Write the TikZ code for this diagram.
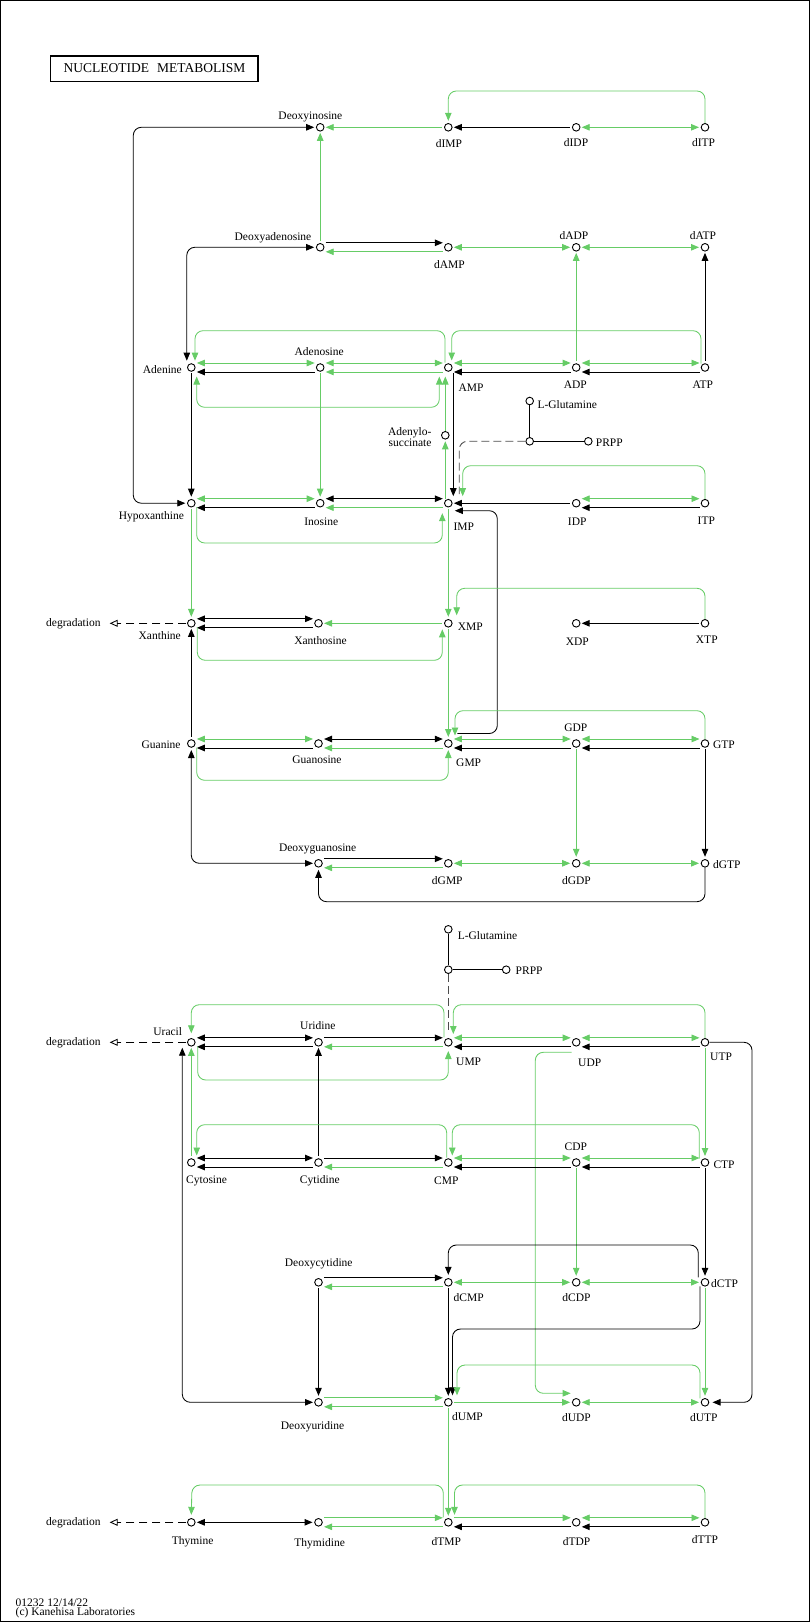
\documentclass[tikz,border=0pt]{standalone}
\usepackage{fontspec}
\setmainfont{Liberation Serif}
\usetikzlibrary{arrows.meta}
\definecolor{kg}{RGB}{102,204,102}
\pgfdeclarelayer{bg}
\pgfsetlayers{bg,main}
\newcommand\HU[3]{\draw[#1] ([xshift=5.5pt,yshift=4.5pt]#2.center) -- ([xshift=-5.5pt,yshift=4.5pt]#3.center);}
\newcommand\HD[3]{\draw[#1] ([xshift=5.5pt,yshift=-4.5pt]#2.center) -- ([xshift=-5.5pt,yshift=-4.5pt]#3.center);}
\newcommand\HM[3]{\draw[#1] ([xshift=5.5pt]#2.center) -- ([xshift=-6pt]#3.center);}
\newcommand\VV[4]{\draw[#1] ([xshift=#4pt,yshift=-5.5pt]#2.center) -- ([xshift=#4pt,yshift=6.5pt]#3.center);}
\begin{document}
\begin{tikzpicture}[x=1pt,y=-1pt,
 met/.style={circle,draw=black,fill=white,line width=0.9pt,minimum size=7.6pt,inner sep=0pt},
 k/.style={draw=black,line width=1.0pt},
 kt/.style={draw=black,line width=0.85pt},
 g/.style={draw=kg,line width=0.85pt},
 >={Triangle[length=8pt,width=6.5pt]},
 lbl/.style={font=\fontsize{11.5}{12}\selectfont,inner sep=0pt},
 rc/.style={rounded corners=8pt},
 degline/.style={draw=black,line width=0.85pt,dash pattern=on 8pt off 5pt,-{Triangle[open,length=8pt,width=7pt]}},
 glnline/.style={draw=black!70,line width=0.85pt,dash pattern=on 8pt off 4pt}
 ]
\useasboundingbox (0,0) rectangle (810,1622);
\draw[line width=1pt] (0.5,0.5) rectangle (809.2,1621.5);
\node[draw,line width=1.6pt,minimum width=207.7pt,minimum height=25.6pt,inner sep=0pt,font=\fontsize{13.5}{14}\selectfont] (title) at (154.4,68.5) {NUCLEOTIDE\hspace{0.6em}METABOLISM};

% ---------- compounds ----------
\node[met] (dIno) at (320.2,127.3) {};
\node[met] (dIMP) at (448.3,127.3) {};
\node[met] (dIDP) at (576.2,127.3) {};
\node[met] (dITP) at (705,127.3) {};
\node[met] (dAdo) at (320.2,247.3) {};
\node[met] (dAMP) at (448.3,247.3) {};
\node[met] (dADP) at (576.2,247.3) {};
\node[met] (dATP) at (705,247.3) {};
\node[met] (Ade) at (191.3,367.5) {};
\node[met] (Ado) at (320.2,367.5) {};
\node[met] (AMP) at (448.3,367.5) {};
\node[met] (ADP) at (576.2,367.5) {};
\node[met] (ATP) at (705,367.5) {};
\node[met] (Gln1) at (529.7,401) {};
\node[met] (J1) at (529.7,441.3) {};
\node[met] (PRPP1) at (588.3,441.3) {};
\node[met] (AdSucc) at (445.3,435.3) {};
\node[met] (Hyp) at (191.3,503.2) {};
\node[met] (Ino) at (320.2,503.2) {};
\node[met] (IMP) at (448.3,503.2) {};
\node[met] (IDP) at (576.2,503.2) {};
\node[met] (ITP) at (705,503.2) {};
\node[met] (Xan) at (191.3,623.3) {};
\node[met] (Xao) at (318.5,623.3) {};
\node[met] (XMP) at (448.3,623.3) {};
\node[met] (XDP) at (576.2,623.3) {};
\node[met] (XTP) at (705,623.3) {};
\node[met] (Gua) at (191.3,743.5) {};
\node[met] (Guo) at (318.5,743.5) {};
\node[met] (GMP) at (448.3,743.5) {};
\node[met] (GDP) at (576.2,743.5) {};
\node[met] (GTP) at (705,743.5) {};
\node[met] (dGuo) at (318.5,863.3) {};
\node[met] (dGMP) at (448.3,863.3) {};
\node[met] (dGDP) at (576.2,863.3) {};
\node[met] (dGTP) at (705,863.3) {};
\node[met] (Gln2) at (448.3,929.3) {};
\node[met] (J2) at (448.3,969.7) {};
\node[met] (PRPP2) at (506.2,969.7) {};
\node[met] (Ura) at (191.3,1042.3) {};
\node[met] (Urd) at (318.5,1042.3) {};
\node[met] (UMP) at (448.3,1042.3) {};
\node[met] (UDP) at (576.2,1042.3) {};
\node[met] (UTP) at (705,1042.3) {};
\node[met] (Cyt) at (191.3,1162.5) {};
\node[met] (Cyd) at (318.5,1162.5) {};
\node[met] (CMP) at (448.3,1162.5) {};
\node[met] (CDP) at (576.2,1162.5) {};
\node[met] (CTP) at (705,1162.5) {};
\node[met] (dCyd) at (318.5,1282.3) {};
\node[met] (dCMP) at (448.3,1282.3) {};
\node[met] (dCDP) at (576.2,1282.3) {};
\node[met] (dCTP) at (705,1282.3) {};
\node[met] (dUrd) at (318.5,1402.3) {};
\node[met] (dUMP) at (448.3,1402.3) {};
\node[met] (dUDP) at (576.2,1402.3) {};
\node[met] (dUTP) at (705,1402.3) {};
\node[met] (Thy) at (191.3,1522.3) {};
\node[met] (Thd) at (318.5,1522.3) {};
\node[met] (dTMP) at (448.3,1522.3) {};
\node[met] (dTDP) at (576.2,1522.3) {};
\node[met] (dTTP) at (705,1522.3) {};

% ---------- labels ----------
\node[lbl,anchor=base] (t1) at (310.4,119.3) {Deoxyinosine};
\node[lbl,anchor=base] (t2) at (449,147.7) {dIMP};
\node[lbl,anchor=base] (t3) at (576,146.7) {dIDP};
\node[lbl,anchor=base] (t4) at (703.6,146.7) {dITP};
\node[lbl,anchor=base east] (t5) at (311.5,240) {Deoxyadenosine};
\node[lbl,anchor=base] (t6) at (449.5,268.7) {dAMP};
\node[lbl,anchor=base] (t7) at (574,239) {dADP};
\node[lbl,anchor=base] (t8) at (703,239) {dATP};
\node[lbl,anchor=base east] (t9) at (182,373.5) {Adenine};
\node[lbl,anchor=base] (t10) at (319.2,355) {Adenosine};
\node[lbl,anchor=base west] (t11) at (458.3,391) {AMP};
\node[lbl,anchor=base] (t12) at (575.3,388.3) {ADP};
\node[lbl,anchor=base] (t13) at (702.8,388.3) {ATP};
\node[lbl,anchor=base west] (t14) at (537.3,408) {L-Glutamine};
\node[lbl,anchor=base west] (t15) at (595.7,446) {PRPP};
\node[lbl,anchor=base east] (t16) at (431.7,435) {Adenylo-};
\node[lbl,anchor=base east] (t17) at (431.7,446) {succinate};
\node[lbl,anchor=base] (t18) at (151.4,519.5) {Hypoxanthine};
\node[lbl,anchor=base] (t19) at (321.2,525) {Inosine};
\node[lbl,anchor=base west] (t20) at (453.3,530) {IMP};
\node[lbl,anchor=base] (t21) at (577.2,525.7) {IDP};
\node[lbl,anchor=base] (t22) at (706.3,524) {ITP};
\node[lbl,anchor=base east] (t23) at (181,639.3) {Xanthine};
\node[lbl,anchor=base] (t24) at (320.5,644) {Xanthosine};
\node[lbl,anchor=base west] (t25) at (457.7,630) {XMP};
\node[lbl,anchor=base] (t26) at (577.3,645) {XDP};
\node[lbl,anchor=base] (t27) at (706.8,643.3) {XTP};
\node[lbl,anchor=base east] (t28) at (180.8,748.3) {Guanine};
\node[lbl,anchor=base] (t29) at (317,763) {Guanosine};
\node[lbl,anchor=base west] (t30) at (456,766.7) {GMP};
\node[lbl,anchor=base] (t31) at (575.8,731) {GDP};
\node[lbl,anchor=base west] (t32) at (712.8,748.3) {GTP};
\node[lbl,anchor=base] (t33) at (317.7,851.7) {Deoxyguanosine};
\node[lbl,anchor=base] (t34) at (447.3,884) {dGMP};
\node[lbl,anchor=base] (t35) at (576.5,884) {dGDP};
\node[lbl,anchor=base west] (t36) at (712.8,868.3) {dGTP};
\node[lbl,anchor=base west] (t37) at (457.6,939) {L-Glutamine};
\node[lbl,anchor=base west] (t38) at (515.5,974) {PRPP};
\node[lbl,anchor=base east] (t39) at (182.3,1035) {Uracil};
\node[lbl,anchor=base] (t40) at (317.8,1029.3) {Uridine};
\node[lbl,anchor=base west] (t41) at (456,1065.7) {UMP};
\node[lbl,anchor=base] (t42) at (589.7,1066.7) {UDP};
\node[lbl,anchor=base west] (t43) at (710,1060.7) {UTP};
\node[lbl,anchor=base] (t44) at (206.6,1183.3) {Cytosine};
\node[lbl,anchor=base] (t45) at (319.8,1183) {Cytidine};
\node[lbl,anchor=base] (t46) at (446.3,1184) {CMP};
\node[lbl,anchor=base] (t47) at (575.8,1150) {CDP};
\node[lbl,anchor=base west] (t48) at (713.3,1168.3) {CTP};
\node[lbl,anchor=base] (t49) at (318.7,1266) {Deoxycytidine};
\node[lbl,anchor=base west] (t50) at (453.5,1301) {dCMP};
\node[lbl,anchor=base] (t51) at (576.5,1301) {dCDP};
\node[lbl,anchor=base west] (t52) at (711,1287.3) {dCTP};
\node[lbl,anchor=base] (t53) at (312.5,1429) {Deoxyuridine};
\node[lbl,anchor=base west] (t54) at (452,1420.7) {dUMP};
\node[lbl,anchor=base] (t55) at (576.5,1421) {dUDP};
\node[lbl,anchor=base] (t56) at (703.8,1421.7) {dUTP};
\node[lbl,anchor=base] (t57) at (192.7,1544) {Thymine};
\node[lbl,anchor=base] (t58) at (319.7,1546) {Thymidine};
\node[lbl,anchor=base] (t59) at (446.3,1545) {dTMP};
\node[lbl,anchor=base] (t60) at (576.5,1545) {dTDP};
\node[lbl,anchor=base] (t61) at (705,1543.7) {dTTP};
\node[lbl,anchor=east] (deg1) at (100.7,623.3) {degradation};
\node[lbl,anchor=east] (deg2) at (100.7,1042.3) {degradation};
\node[lbl,anchor=east] (deg3) at (100.7,1522.3) {degradation};
\node[lbl,anchor=base west] (f1) at (15.5,1606.7) {01232 12/14/22};
\node[lbl,anchor=base west] (f2) at (15.5,1615.5) {(c) Kanehisa Laboratories};

% ---------- reactions ----------
\begin{pgfonlayer}{bg}
% row dIMP
\HM{g,<-}{dIno}{dIMP}
\HM{k,<-}{dIMP}{dIDP}
\HM{g,<->}{dIDP}{dITP}
\draw[g,->,rc] ([yshift=4pt]dITP.center) -- (705,91) -- (448.3,91) -- ([yshift=6.5pt]dIMP.center);
\draw[kt,<->,rc] ([xshift=-6pt]Hyp.center) -- (133.3,503.2) -- (133.3,127.3) -- ([xshift=-6pt]dIno.center);
% row dAMP
\HU{k,->}{dAdo}{dAMP}
\HD{g,<-}{dAdo}{dAMP}
\HM{g,<->}{dAMP}{dADP}
\HM{g,<->}{dADP}{dATP}
\VV{g,<-}{dIno}{dAdo}{0}
\VV{g,<-}{dADP}{ADP}{0}
\VV{k,<-}{dATP}{ATP}{0}
\draw[kt,<->,rc] ([xshift=-4.5pt,yshift=6.8pt]Ade.center) -- (186.8,247.3) -- ([xshift=-6pt]dAdo.center);
% row AMP
\HU{g,<->}{Ade}{Ado}
\HD{k,<-}{Ade}{Ado}
\HU{g,<->}{Ado}{AMP}
\HD{g,<-}{Ado}{AMP}
\HU{g,<->}{AMP}{ADP}
\HD{k,<-}{AMP}{ADP}
\HU{g,<->}{ADP}{ATP}
\HD{k,<-}{ADP}{ATP}
\draw[g,->,rc] ([xshift=-3.3pt,yshift=5pt]AMP.center) -- (445,330.7) -- (195,330.7) -- ([xshift=3.7pt,yshift=6.8pt]Ade.center);
\draw[g,->,rc] ([xshift=-4pt,yshift=4pt]ATP.center) -- (701,330.7) -- (451.7,330.7) -- ([xshift=3.4pt,yshift=7pt]AMP.center);
\draw[g,<->,rc] ([xshift=5.4pt,yshift=-9pt]Ade.center) -- (196.7,407.3) -- (439.3,407.3) -- ([xshift=-9pt,yshift=-9pt]AMP.center);
\draw[g,->] ([xshift=-3pt,yshift=4pt]IMP.center) -- ([yshift=-6pt]AdSucc.center);
\draw[g,->] ([yshift=4.5pt]AdSucc.center) -- ([xshift=-3pt,yshift=-9pt]AMP.center);
\draw[k,->] ([xshift=5pt,yshift=-5.5pt]AMP.center) -- ([xshift=5pt,yshift=7pt]IMP.center);
\VV{k,->}{Ade}{Hyp}{0}
\VV{g,->}{Ado}{Ino}{0}
\draw[kt] (Gln1) -- (J1);
\draw[kt] (J1) -- (PRPP1);
\draw[glnline,rc] (J1.west) -- (459.3,441.3) -- ([xshift=11pt,yshift=9pt]IMP.center);
% row IMP
\HU{g,<->}{Hyp}{Ino}
\HD{k,<-}{Hyp}{Ino}
\HU{k,<->}{Ino}{IMP}
\HD{g,<-}{Ino}{IMP}
\HM{k,<-}{IMP}{IDP}
\HU{g,<->}{IDP}{ITP}
\HD{k,<-}{IDP}{ITP}
\draw[g,->,rc] ([yshift=4pt]ITP.center) -- (705,465.7) -- (462.7,465.7) -- ([xshift=14.4pt,yshift=7pt]IMP.center);
\draw[g,->,rc] ([xshift=5.4pt,yshift=-4pt]Hyp.center) -- (196.7,543) -- (442.3,543) -- ([xshift=-6pt,yshift=-10pt]IMP.center);
\draw[kt,->,rc] ([xshift=9pt,yshift=10pt]GMP.center) -- (497.3,733.5) -- (497.3,510.7) -- ([xshift=6.5pt,yshift=-7.5pt]IMP.center);
\VV{g,->}{Hyp}{Xan}{0}
\VV{g,->}{IMP}{XMP}{0}
% row XMP
\draw[degline] ([xshift=-5pt]Xan.center) -- ([xshift=9pt]deg1.east);
\HU{k,<->}{Xan}{Xao}
\HD{k,<-}{Xan}{Xao}
\HM{g,<-}{Xao}{XMP}
\HM{k,<-}{XDP}{XTP}
\draw[g,->,rc] ([xshift=6pt,yshift=-4pt]Xan.center) -- (197.3,660.3) -- (442.3,660.3) -- ([xshift=-6pt,yshift=-6pt]XMP.center);
\draw[g,->,rc] ([yshift=4pt]XTP.center) -- (705,588.3) -- (456.7,588.3) -- ([xshift=8.4pt,yshift=8pt]XMP.center);
\VV{g,->}{XMP}{GMP}{0}
\VV{k,<-}{Xan}{Gua}{0}
% row GMP
\HU{g,<->}{Gua}{Guo}
\HD{k,<-}{Gua}{Guo}
\HU{k,<->}{Guo}{GMP}
\HD{g,<-}{Guo}{GMP}
\HU{g,<->}{GMP}{GDP}
\HD{k,<-}{GMP}{GDP}
\HU{g,<->}{GDP}{GTP}
\HD{k,<-}{GDP}{GTP}
\draw[g,->,rc] ([yshift=4pt]GTP.center) -- (705,710.7) -- (455,710.7) -- ([xshift=6.7pt,yshift=8pt]GMP.center);
\draw[g,->,rc] ([xshift=5.4pt,yshift=-4pt]Gua.center) -- (196.7,780.3) -- (448.3,780.3) -- ([yshift=-6.5pt]GMP.center);
\VV{g,->}{GDP}{dGDP}{0}
\VV{k,->}{GTP}{dGTP}{0}
\draw[kt,<->,rc] ([yshift=-6.5pt]Gua.center) -- (191.3,863.3) -- ([xshift=-5.5pt]dGuo.center);
% row dGMP
\HU{k,->}{dGuo}{dGMP}
\HD{g,<-}{dGuo}{dGMP}
\HM{g,<->}{dGMP}{dGDP}
\HM{g,<->}{dGDP}{dGTP}
\draw[kt,->,rc] ([yshift=-4pt]dGTP.center) -- (705,901.7) -- (318.5,901.7) -- ([yshift=-6.5pt]dGuo.center);
% pyrimidines
\draw[kt] (Gln2) -- (J2);
\draw[kt] (J2) -- (PRPP2);
\draw[glnline] (J2) -- ([yshift=10.6pt]UMP.center);
% row UMP
\draw[degline] ([xshift=-5pt]Ura.center) -- ([xshift=9pt]deg2.east);
\HU{k,<->}{Ura}{Urd}
\HD{k,<-}{Ura}{Urd}
\HU{k,->}{Urd}{UMP}
\HD{g,<-}{Urd}{UMP}
\HU{g,<->}{UMP}{UDP}
\HD{k,<-}{UMP}{UDP}
\HU{g,<->}{UDP}{UTP}
\HD{k,<-}{UDP}{UTP}
\draw[g,->,rc] ([xshift=-4.3pt,yshift=5pt]UMP.center) -- (444,1004.7) -- (191.3,1004.7) -- ([yshift=9pt]Ura.center);
\draw[g,->,rc] ([yshift=4pt]UTP.center) -- (705,1004.7) -- (453.3,1004.7) -- ([xshift=5pt,yshift=8.3pt]UMP.center);
\draw[g,->,rc] ([xshift=6.4pt,yshift=-4pt]Ura.center) -- (197.7,1080) -- (448.3,1080) -- ([yshift=-8.7pt]UMP.center);
\VV{g,<-}{Ura}{Cyt}{0}
\VV{k,<-}{Urd}{Cyd}{0}
\draw[kt,<->,rc] ([xshift=-9pt,yshift=-5.4pt]Ura.center) -- (182.3,1402.3) -- ([xshift=-5.5pt]dUrd.center);
\draw[kt,->,rc] ([xshift=4.5pt]UTP.center) -- (752,1042.3) -- (752,1402.3) -- ([xshift=7.5pt]dUTP.center);
\draw[g,->,rc] ([xshift=-4.5pt,yshift=-10pt]UDP.center) -- (535.3,1052.3) -- (535.3,1393.3) -- ([xshift=-5.5pt,yshift=9pt]dUDP.center);
\VV{g,->}{UTP}{CTP}{0}
% row CMP
\HU{k,<->}{Cyt}{Cyd}
\HD{k,<-}{Cyt}{Cyd}
\HU{k,->}{Cyd}{CMP}
\HD{g,<-}{Cyd}{CMP}
\HU{g,<->}{CMP}{CDP}
\HD{k,<-}{CMP}{CDP}
\HU{g,<->}{CDP}{CTP}
\HD{k,<-}{CDP}{CTP}
\draw[g,->,rc] ([xshift=-1.6pt,yshift=5pt]CMP.center) -- (446.7,1124.7) -- (196.7,1124.7) -- ([xshift=5.4pt,yshift=7pt]Cyt.center);
\draw[g,->,rc] ([xshift=-5.7pt,yshift=4pt]CTP.center) -- (699.3,1124.7) -- (452.3,1124.7) -- ([xshift=4pt,yshift=7pt]CMP.center);
\VV{g,->}{CDP}{dCDP}{0}
\VV{k,->}{CTP}{dCTP}{0}
% row dCMP
\HU{k,->}{dCyd}{dCMP}
\HD{g,<-}{dCyd}{dCMP}
\HM{g,<->}{dCMP}{dCDP}
\HM{g,<->}{dCDP}{dCTP}
\draw[kt,->,rc] ([xshift=-6.7pt,yshift=5pt]dCTP.center) -- (698.3,1245) -- (448.3,1245) -- ([yshift=7.5pt]dCMP.center);
\VV{k,->}{dCyd}{dUrd}{0}
\VV{k,->}{dCMP}{dUMP}{0}
\draw[kt,->,rc] ([xshift=-5pt,yshift=-4pt]dCTP.center) -- (700,1329) -- (452.5,1329) -- ([xshift=4.2pt,yshift=7pt]dUMP.center);
\VV{g,->}{dCTP}{dUTP}{0}
% row dUMP
\HU{g,->}{dUrd}{dUMP}
\HD{g,<-}{dUrd}{dUMP}
\HM{g,->}{dUMP}{dUDP}
\HM{g,<->}{dUDP}{dUTP}
\draw[g,->,rc] ([xshift=-5pt,yshift=4pt]dUTP.center) -- (700,1365) -- (457,1365) -- ([xshift=8.7pt,yshift=7pt]dUMP.center);
\VV{g,->}{dUMP}{dTMP}{0}
% row dTMP
\draw[degline] ([xshift=-5pt]Thy.center) -- ([xshift=9pt]deg3.east);
\HM{k,<->}{Thy}{Thd}
\HU{g,->}{Thd}{dTMP}
\HD{g,<-}{Thd}{dTMP}
\HU{g,->}{dTMP}{dTDP}
\HD{k,<-}{dTMP}{dTDP}
\HU{g,<->}{dTDP}{dTTP}
\HD{k,<-}{dTDP}{dTTP}
\draw[g,->,rc] ([xshift=-5pt,yshift=5pt]dTMP.center) -- (443.3,1485) -- (192,1485) -- ([yshift=7.5pt]Thy.center);
\draw[g,->,rc] ([yshift=4pt]dTTP.center) -- (705,1485) -- (454.5,1485) -- ([xshift=6.2pt,yshift=7.5pt]dTMP.center);
\end{pgfonlayer}
\end{tikzpicture}
\end{document}
